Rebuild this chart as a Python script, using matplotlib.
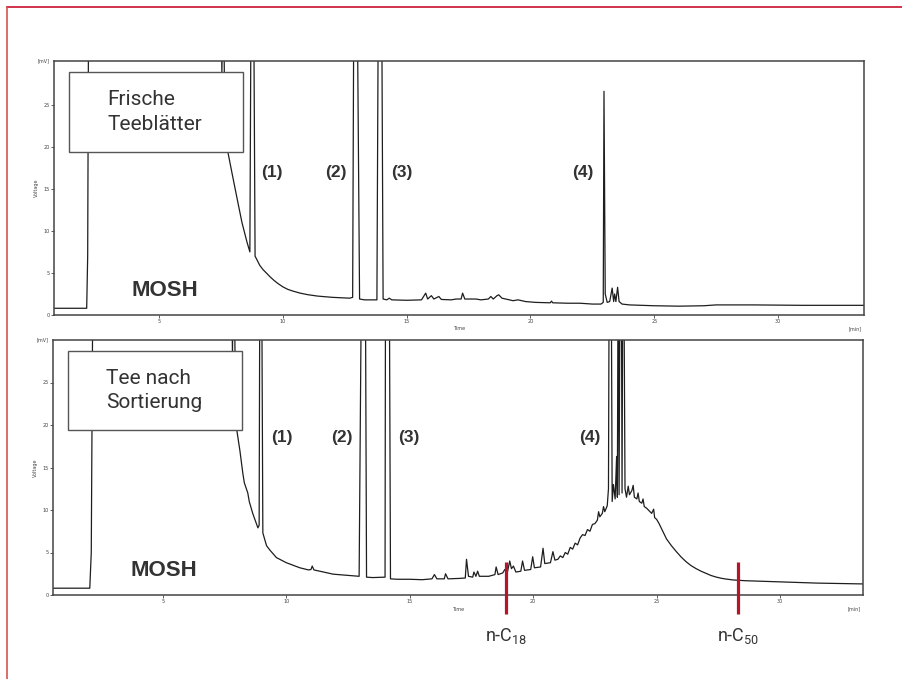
import matplotlib
matplotlib.use('Agg')
import matplotlib.pyplot as plt
from matplotlib.patches import Rectangle
from matplotlib.lines import Line2D

# chromatogram 1: frische Teeblaetter (time in min, voltage in mV, 40 = off scale)
top_t = [0.76, 2.08, 2.12, 2.16, 7.50, 7.54, 7.57, 7.60, 7.66, 7.78, 7.94, 8.15, 8.35, 8.55, 8.67,
         8.72, 8.82, 8.88, 9.07, 9.2, 9.35, 9.5, 9.65, 9.8, 10.0, 10.2, 10.4, 10.7, 11.0,
         11.4, 12.0, 12.7, 12.82,
         12.87, 13.0, 13.1, 13.3, 13.8, 13.86, 13.99, 14.05, 14.2, 14.3, 14.4, 15.0, 15.6,
         15.77, 15.85, 16.0, 16.1, 16.3, 16.4, 16.8, 17.0, 17.2, 17.26, 17.35, 17.8, 18.0,
         18.3, 18.4, 18.5, 18.65, 18.72, 18.85, 19.0, 19.3, 19.5, 19.8, 20.2, 20.8, 20.85,
         20.9, 21.5, 22.0, 22.5, 22.85, 22.94, 22.97, 23.02, 23.1, 23.2, 23.3, 23.36, 23.4,
         23.45, 23.52, 23.58, 23.7, 24.0, 25.0, 26.0, 27.0, 27.5, 29.0, 31.0, 33.5]
top_v = [0.8, 0.8, 7.0, 40, 40, 28.5, 40, 40, 22.5, 19.4, 17.0, 13.9, 11.0, 8.7, 7.5,
         40, 40, 7.0, 5.9, 5.4, 4.95, 4.5, 4.1, 3.75, 3.35, 3.05, 2.85, 2.6, 2.42,
         2.25, 2.1, 2.0, 2.1,
         40, 40, 1.9, 1.8, 1.8, 40, 40, 1.9, 1.8, 2.0, 1.8, 1.75, 1.8,
         2.6, 1.9, 2.3, 1.9, 2.2, 1.85, 1.8, 1.9, 1.9, 2.6, 1.9, 1.9, 1.8,
         1.9, 2.2, 1.9, 2.3, 2.4, 2.0, 1.9, 1.7, 1.8, 1.6, 1.5, 1.45, 1.65,
         1.45, 1.4, 1.4, 1.3, 1.3, 1.5, 26.6, 2.5, 1.5, 1.6, 3.2, 1.6, 2.5,
         1.6, 3.3, 1.6, 1.3, 1.2, 1.1, 1.05, 1.1, 1.2, 1.2, 1.15, 1.15]

# chromatogram 2: Tee nach Sortierung
bot_t = [0.55, 2.04, 2.10, 2.17, 7.78, 7.82, 7.85, 7.88, 7.95, 8.0, 8.12, 8.24, 8.3, 8.44, 8.5,
         8.64, 8.85, 8.9, 8.93, 9.0, 9.05, 9.2, 9.33, 9.6, 10.0, 10.55, 10.9, 11.0, 11.05,
         11.12, 11.5, 11.9, 12.5, 12.95, 13.05, 13.2, 13.25, 13.5, 14.0, 14.02, 14.17, 14.22,
         14.5, 15.0, 15.5, 15.9, 16.0, 16.1, 16.4, 16.45, 16.55, 17.0, 17.25, 17.3, 17.38,
         17.55, 17.6, 17.68, 17.75, 17.82, 18.2, 18.45, 18.5, 18.58, 18.77, 18.85, 18.95,
         19.05, 19.12, 19.2, 19.3, 19.5, 19.57, 19.65, 19.9, 19.98, 20.05, 20.3, 20.4,
         20.47, 20.7, 20.8, 20.88, 21.0, 21.1, 21.2, 21.3, 21.4, 21.5, 21.6, 21.7, 21.8,
         21.9, 22.0, 22.1, 22.2, 22.3, 22.4, 22.5, 22.6, 22.65, 22.7, 22.8, 22.85, 22.9,
         23.0, 23.05, 23.08, 23.16, 23.2, 23.25, 23.32, 23.38, 23.41, 23.44, 23.48, 23.52,
         23.57, 23.6, 23.63, 23.67, 23.72, 23.78, 23.85, 23.9, 24.0, 24.05, 24.1, 24.2,
         24.25, 24.3, 24.4, 24.45, 24.5, 24.6, 24.7, 24.8, 24.88, 24.92, 25.0, 25.1, 25.2,
         25.3, 25.4, 25.6, 25.8, 26.0, 26.2, 26.4, 26.6, 26.8, 27.0, 27.2, 27.4, 27.6,
         27.8, 28.1, 28.6, 29.45, 30.5, 31.5, 32.5, 33.4]
bot_v = [0.8, 0.8, 5.0, 40, 40, 28.0, 40, 40, 21.0, 19.3, 17.0, 14.3, 13.2, 12.0, 11.0,
         9.6, 7.9, 8.2, 40, 40, 7.3, 5.8, 5.3, 4.4, 3.8, 3.2, 2.95, 3.0, 3.4,
         2.95, 2.7, 2.45, 2.3, 2.2, 40, 40, 2.1, 2.05, 2.1, 40, 40, 1.9,
         1.85, 1.85, 1.8, 1.9, 2.4, 1.9, 1.9, 2.5, 1.9, 1.95, 2.0, 4.2, 2.2,
         2.1, 2.7, 2.2, 2.8, 2.2, 2.2, 2.4, 3.3, 2.4, 2.6, 3.0, 2.6,
         4.0, 3.1, 3.4, 2.7, 2.8, 4.0, 2.9, 3.0, 4.5, 3.2, 3.3, 5.5,
         3.7, 3.8, 5.1, 4.1, 4.2, 4.6, 4.4, 5.0, 4.8, 5.6, 5.4, 6.1, 5.9,
         6.7, 7.1, 7.0, 7.7, 7.5, 8.3, 8.4, 8.8, 9.8, 9.2, 9.6, 10.4, 9.8,
         10.5, 12.5, 40, 40, 11.0, 13.0, 11.3, 16.3, 11.5, 40, 11.8, 40,
         40, 12.0, 40, 40, 12.5, 11.5, 12.8, 11.8, 12.3, 12.9, 11.5, 11.3,
         12.0, 11.0, 10.8, 11.3, 10.4, 10.2, 9.9, 9.6, 10.1, 9.1, 8.9, 8.4, 7.8,
         7.2, 6.6, 5.8, 5.1, 4.45, 3.9, 3.45, 3.1, 2.8, 2.55, 2.3, 2.12, 1.98,
         1.88, 1.77, 1.68, 1.6, 1.5, 1.4, 1.35, 1.3]

peak_labels = ['(1)', '(2)', '(3)', '(4)']
top_label_t = [9.56, 12.14, 14.8, 22.12]
bot_label_t = [9.82, 12.25, 14.96, 22.31]

marker_t = [18.9, 28.3]
marker_labels = [r'n-C$_{\mathregular{18}}$', r'n-C$_{\mathregular{50}}$']

yticks = [0, 5, 10, 15, 20, 25]
xticks = [5, 10, 15, 20, 25, 30]

txt = '#333333'
red = '#b5152b'

fig = plt.figure(figsize=(9.03, 6.79), dpi=100)

# page frame (top and left only)
fig.add_artist(Line2D([7/903, 1], [1-7/679, 1-7/679], color='#c8102e', lw=1.2))
fig.add_artist(Line2D([7/903, 7/903], [0, 1-7/679], color='#d9534f', lw=1.2))

ax1 = fig.add_axes([54/903, 1-315/679, 810/903, 254/679])
ax2 = fig.add_axes([53/903, 1-595/679, 810/903, 255/679])


def style_axis(ax, xlim, ylim):
    ax.set_xlim(xlim)
    ax.set_ylim(ylim)
    ax.set_xticks(xticks)
    ax.set_yticks(yticks)
    ax.tick_params(direction='out', length=2, width=0.6, labelsize=3.5, pad=1,
                   colors='#444444')
    for s in ax.spines.values():
        s.set_color('#444444')
        s.set_linewidth(1.1)
    ax.text(-0.006, 1.0, '[mV]', transform=ax.transAxes, ha='right', va='center',
            fontsize=3.5, color='#444444')
    ax.text(-0.022, 0.5, 'Voltage', transform=ax.transAxes, ha='center', va='center',
            rotation=90, fontsize=3.5, color='#444444')
    ax.text(0.5, -0.055, 'Time', transform=ax.transAxes, ha='center', va='center',
            fontsize=3.5, color='#444444')
    ax.text(0.997, -0.055, '[min]', transform=ax.transAxes, ha='right', va='center',
            fontsize=3.5, color='#444444')


style_axis(ax1, (0.76, 33.47), (0, 30.2))
style_axis(ax2, (0.55, 33.36), (0.35, 30.0))

ax1.plot(top_t, top_v, color='#1e1e1e', lw=0.9, zorder=2)
ax2.plot(bot_t, bot_v, color='#1e1e1e', lw=0.9, zorder=2)

# sample boxes
for ax, name, y0, y1 in [(ax1, 'Frische\nTeeblätter', 0.642, 0.957),
                         (ax2, 'Tee nach\nSortierung', 0.647, 0.957)]:
    ax.add_patch(Rectangle((0.0185, y0), 0.2148, y1 - y0, transform=ax.transAxes,
                           facecolor='white', edgecolor='#555555', lw=1.0, zorder=3))
    ax.text(0.066, (y0 + y1) / 2, name, transform=ax.transAxes, ha='left', va='center',
            fontsize=15, family='Roboto', color=txt, linespacing=1.35, zorder=4)
    ax.text(0.137, 0.098, 'MOSH', transform=ax.transAxes,
            ha='center', va='center', fontsize=16, fontweight='bold',
            family='Liberation Sans', color=txt, zorder=4)

for lab, t in zip(peak_labels, top_label_t):
    ax1.text(t, 17.0, lab, ha='center', va='center', fontsize=12.5, fontweight='bold',
             family='Liberation Sans', color=txt)
for lab, t in zip(peak_labels, bot_label_t):
    ax2.text(t, 18.5, lab, ha='center', va='center', fontsize=12.5, fontweight='bold',
             family='Liberation Sans', color=txt)

# n-alkane markers
for t, lab in zip(marker_t, marker_labels):
    ax2.plot([t, t], [3.84, -2.2], color=red, lw=2.3, clip_on=False, zorder=5,
             solid_capstyle='butt')
    ax2.text(t, -5.45, lab, ha='center', va='baseline', fontsize=13, family='Roboto',
             color=txt)

fig.savefig('out.png', dpi=100)
